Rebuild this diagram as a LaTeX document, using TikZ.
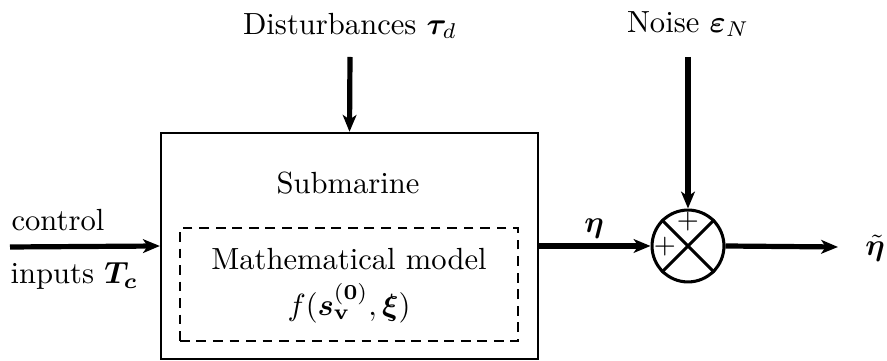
\documentclass[tikz,border=0pt]{standalone}
\usepackage{bm}
\usetikzlibrary{arrows.meta}
\begin{document}
\begin{tikzpicture}[x=0.3268pt,y=-0.3268pt,
  sig/.style={line width=1.7pt,-{Stealth[length=5.5pt,width=4.5pt,inset=1.5pt]}},
  lbl/.style={inner sep=0pt,font=\fontsize{10}{12}\selectfont}]
\useasboundingbox (0,0) rectangle (887,361);
\node[draw,line width=0.75pt,minimum width=123.2pt,minimum height=73.9pt,inner sep=0pt] (sub) at (349.5,246) {};
\node[lbl] (subt) at (348,183) {Submarine};
\node[draw,dashed,dash pattern=on 3.2pt off 2.2pt,line width=0.8pt,minimum width=110.5pt,minimum height=36.9pt,inner sep=0pt] (mm) at (349,284.5) {};
\node[lbl] (mmt) at (349,259) {Mathematical model};
\node[lbl] (fx) at (349,303) {$f(\bm{s}_{\mathbf{v}}^{(\mathbf{0})},\bm{\xi})$};
\node[draw,circle,line width=1pt,minimum size=23.5pt,inner sep=0pt] (sum) at (688,246) {};
\draw[line width=1pt] (sum.north west) -- (sum.south east);
\draw[line width=1pt] (sum.north east) -- (sum.south west);
\node[lbl,font=\fontsize{9}{10}\selectfont] (p1) at (688,222) {$+$};
\node[lbl,font=\fontsize{9}{10}\selectfont] (p2) at (665,247) {$+$};
\node[lbl,anchor=west] (ctl) at (11,220) {control};
\node[lbl,anchor=west] (inp) at (10,276) {inputs $\bm{T_c}$};
\coordinate (in0) at (10,247);
\draw[sig] (in0) -- (sub.west);
\node[lbl] (dist) at (350,26) {Disturbances $\bm{\tau}_d$};
\coordinate (d0) at (350,57);
\draw[sig] (d0) -- (sub.north);
\node[lbl] (noise) at (688,24) {Noise $\bm{\varepsilon}_N$};
\coordinate (n0) at (688,57);
\draw[sig] (n0) -- (sum.north);
\draw[sig] (sub.east) -- (sum.west);
\node[lbl] (eta) at (594,229) {$\bm{\eta}$};
\coordinate (o1) at (838,247);
\draw[sig] (sum.east) -- (o1);
\node[lbl] (etat) at (875,248) {$\tilde{\bm{\eta}}$};
\end{tikzpicture}
\end{document}
